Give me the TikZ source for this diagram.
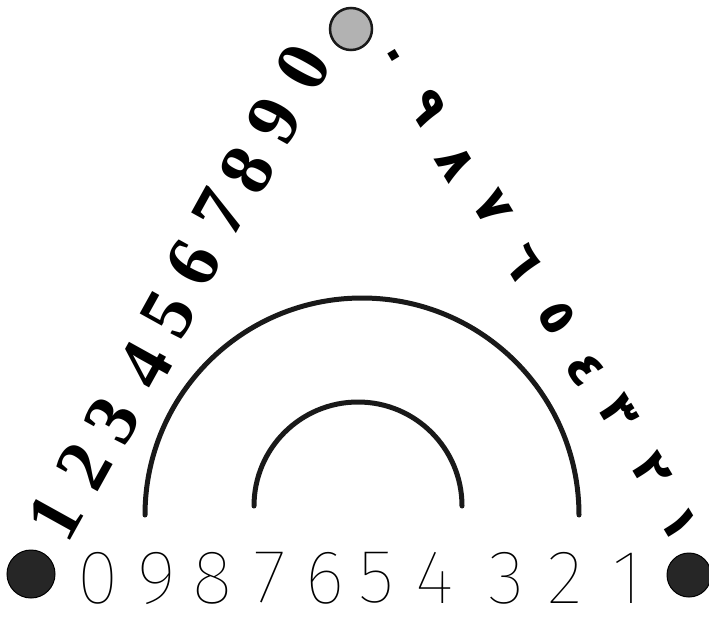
\documentclass[tikz,border=0pt]{standalone}
\usepackage{fontspec}
\newfontfamily\leftfont{Liberation Serif}
\newfontfamily\arabicfont[Script=Arabic]{DejaVu Sans}
\IfFontExistsTF{Fira Sans Thin}{\newfontfamily\thinfont{Fira Sans Thin}}{%
 \IfFontExistsTF{Poppins Thin}{\newfontfamily\thinfont{Poppins Thin}}{%
  \IfFontExistsTF{Noto Sans Thin}{\newfontfamily\thinfont{Noto Sans Thin}}{%
   \IfFontExistsTF{Lato Hairline}{\newfontfamily\thinfont{Lato Hairline}}{%
    \newfontfamily\thinfont{Liberation Sans}}}}}
\tikzset{
  leftdigit/.style={font=\leftfont\bfseries\fontsize{75}{75}\selectfont, rotate=61, inner sep=0pt},
  rightdigit/.style={font=\arabicfont\bfseries\fontsize{51}{51}\selectfont, rotate=-59, inner sep=0pt},
  bottomdigit/.style={font=\thinfont\fontsize{76}{76}\selectfont, inner sep=0pt},
  darkdot/.style={fill=black!85, draw=black, line width=1pt},
  lightdot/.style={fill=black!30, draw=black!90, line width=2.5pt},
  arcline/.style={line width=5pt, line cap=round, black!90}
}
\begin{document}
\begin{tikzpicture}[x=1pt,y=-1pt]
\useasboundingbox[fill=white] (0,0) rectangle (709,616);
% corner dots
\fill[lightdot] (351,29) circle[radius=21];
\fill[darkdot] (31,574) circle[radius=24];
\fill[darkdot] (689,575) circle[radius=22];
% left numerals
\foreach \d/\x/\y in {1/55/517, 2/84/466, 3/112/420, 4/145/365, 5/168/314, 6/193/263, 7/220/212, 8/247/170, 9/274/120, 0/303/67}
  \node[leftdigit] (l\d) at (\x,\y) {\d};
% right numerals (Arabic-Indic)
\foreach \d/\c/\x/\y in {0/٠/390/58, 9/٩/428/107, 8/٨/455/164, 7/٧/492/208, 6/٦/522/262, 5/٥/557/318, 4/٤/585/369, 3/٣/618/412, 2/٢/651/470, 1/١/679/523}
  \node[rightdigit] (r\d) at (\x,\y) {\c};
% bottom numerals
\foreach \d/\x in {0/98, 9/157, 8/212, 7/270, 6/325, 5/377, 4/435, 3/507, 2/565, 1/627}
  \node[bottomdigit] (b\d) at (\x,578) {\d};
% arcs
\coordinate (outerL) at (145,515);
\coordinate (innerL) at (254,506);
\draw[arcline] (outerL) arc[start angle=180, end angle=360, radius=217];
\draw[arcline] (innerL) arc[start angle=180, end angle=360, radius=104];
\end{tikzpicture}
\end{document}
